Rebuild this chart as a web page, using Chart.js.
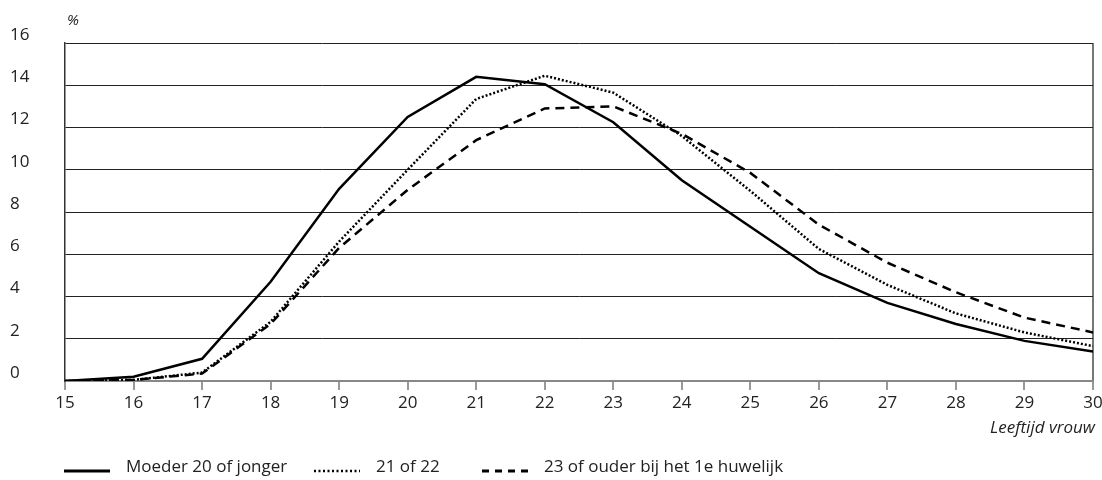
<!DOCTYPE html>
<html><head><meta charset="utf-8">
<script src="https://cdn.jsdelivr.net/npm/chart.js@4/dist/chart.umd.min.js"></script>
<style>html,body{margin:0;padding:0;background:#fff}#wrap{width:1102px;height:480px}</style>
</head><body><div id="wrap"><canvas id="c" width="1102" height="480"></canvas></div>
<script>
const ages = [15,16,17,18,19,20,21,22,23,24,25,26,27,28,29,30];
const yTicks = [0,2,4,6,8,10,12,14,16];
const moeder20 = [0,0.2,1.05,4.7,9.1,12.5,14.4,14.05,12.25,9.5,7.3,5.1,3.7,2.7,1.9,1.4];
const moeder2122 = [0,0.05,0.4,2.8,6.6,10.0,13.35,14.45,13.65,11.6,9.0,6.25,4.55,3.2,2.3,1.65];
const moeder23 = [0,0.05,0.35,2.7,6.3,9.05,11.4,12.9,13.0,11.7,9.85,7.4,5.6,4.2,3.0,2.3];
const seriesLabels = ['Moeder 20 of jonger','21 of 22','23 of ouder bij het 1e huwelijk'];
const yUnit = '%';
const xTitle = 'Leeftijd vrouw';

const FONT = '"Open Sans", sans-serif';
const toPts = arr => arr.map((v,i)=>({x:ages[i], y:v}));

const extras = {
  id:'extras',
  afterDraw(chart){
    const ctx = chart.ctx, ca = chart.chartArea;
    ctx.save();
    ctx.fillStyle = '#222';
    ctx.font = 'italic 15px ' + FONT;
    ctx.textAlign = 'left'; ctx.textBaseline = 'middle';
    ctx.fillText(yUnit, ca.left + 2, 21);
    ctx.font = 'italic 17px ' + FONT;
    ctx.textAlign = 'right'; ctx.textBaseline = 'alphabetic';
    ctx.fillText(xTitle, ca.right + 2, 433);
    // legend
    const starts = [64, 314, 482];
    const sampleW = 46;
    ctx.font = '17px ' + FONT;
    ctx.textAlign = 'left'; ctx.textBaseline = 'alphabetic';
    chart.data.datasets.forEach((ds, i) => {
      const x0 = starts[i], yL = 471;
      ctx.beginPath();
      ctx.strokeStyle = ds.borderColor;
      ctx.lineWidth = ds.legendWidth;
      ctx.setLineDash(ds.legendDash);
      ctx.moveTo(x0, yL); ctx.lineTo(x0 + sampleW, yL);
      ctx.stroke();
      ctx.setLineDash([]);
      ctx.fillStyle = '#222';
      ctx.fillText(ds.label, x0 + sampleW + 16, 472);
    });
    ctx.restore();
  }
};

new Chart(document.getElementById('c'), {
  type:'line',
  data:{
    datasets:[
      {label:seriesLabels[0], data:toPts(moeder20), borderColor:'#000', borderWidth:2.5, borderDash:[], legendDash:[], legendWidth:3, pointRadius:0, tension:0},
      {label:seriesLabels[1], data:toPts(moeder2122), borderColor:'#000', borderWidth:2.5, borderDash:[2,2], legendDash:[2,2.5], legendWidth:2.5, pointRadius:0, tension:0},
      {label:seriesLabels[2], data:toPts(moeder23), borderColor:'#000', borderWidth:2.5, borderDash:[9,6], legendDash:[7,6], legendWidth:3, pointRadius:0, tension:0}
    ]
  },
  options:{
    responsive:false,
    animation:false,
    devicePixelRatio:1,
    layout:{padding:{left:10, right:9, top:43, bottom:0}},
    plugins:{legend:{display:false}, tooltip:{enabled:false}},
    scales:{
      x:{
        type:'linear', min:15, max:30,
        afterBuildTicks(s){ s.ticks = ages.map(v=>({value:v})); },
        afterFit(s){ s.height = 99; s.paddingLeft = 0; s.paddingRight = 0; },
        grid:{
          color: c => (c.tick && c.tick.value === 30) ? '#777' : 'rgba(0,0,0,0)',
          lineWidth: 2,
          tickColor:'#777', tickLength:9, tickWidth:1.5
        },
        border:{display:true, color:'#888', width:2},
        ticks:{font:{family:FONT, size:17}, color:'#222', padding:3, maxRotation:0}
      },
      y:{
        min:0, max:16,
        afterBuildTicks(s){ s.ticks = yTicks.map(v=>({value:v})); },
        afterFit(s){ s.width = 55; s.paddingTop = 0; s.paddingBottom = 0; },
        grid:{color:'#222', lineWidth:1, drawTicks:false},
        border:{display:true, color:'#333', width:1.5},
        ticks:{font:{family:FONT, size:17}, color:'#222', padding:0, crossAlign:'far', labelOffset:-8}
      }
    }
  },
  plugins:[extras]
});
</script></body></html>
